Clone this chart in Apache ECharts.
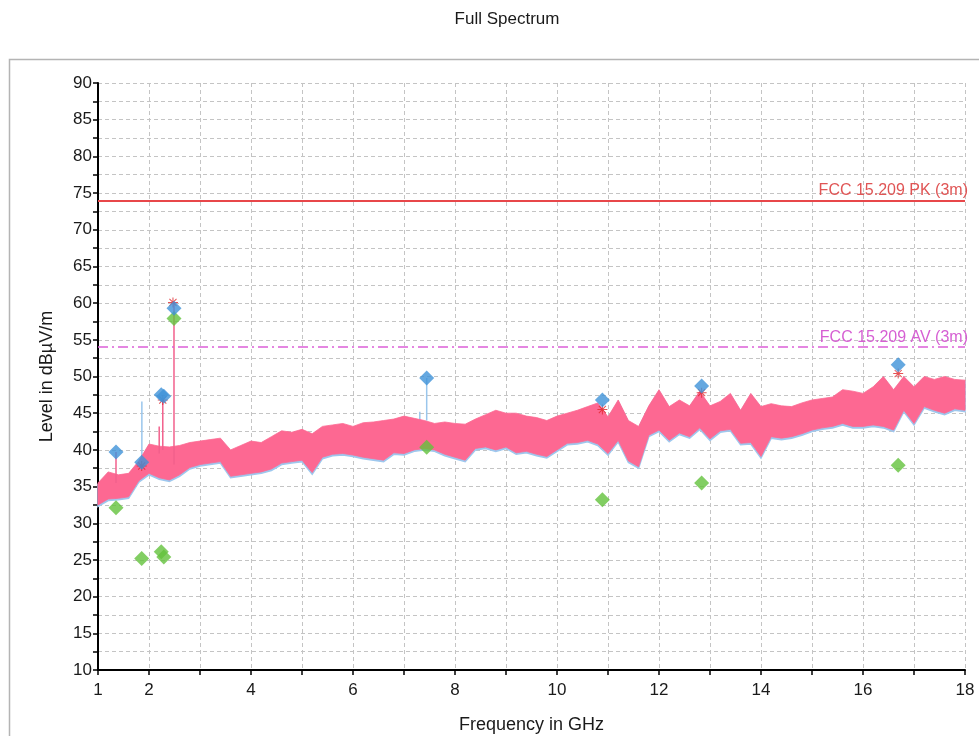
<!DOCTYPE html>
<html>
<head>
<meta charset="utf-8">
<title>Full Spectrum</title>
<script src="https://cdn.jsdelivr.net/npm/echarts@6/dist/echarts.min.js"></script>
<style>
  html, body { margin: 0; padding: 0; background: #fff; }
  #main { width: 979px; height: 736px; }
</style>
</head>
<body>
<div id="main"></div>
<script>
// sweep samples (GHz) with upper / lower edge of the measured trace (dBµV/m)
const freqGHz = [
  1.0, 1.2, 1.4, 1.6, 1.8, 2.0, 2.2, 2.4, 2.6, 2.8,
  3.0, 3.2, 3.4, 3.6, 3.8, 4.0, 4.2, 4.4, 4.6, 4.8,
  5.0, 5.2, 5.4, 5.6, 5.8, 6.0, 6.2, 6.4, 6.6, 6.8,
  7.0, 7.2, 7.4, 7.6, 7.8, 8.0, 8.2, 8.4, 8.6, 8.8,
  9.0, 9.2, 9.4, 9.6, 9.8, 10.0, 10.2, 10.4, 10.6, 10.8,
  11.0, 11.2, 11.4, 11.6, 11.8, 12.0, 12.2, 12.4, 12.6, 12.8,
  13.0, 13.2, 13.4, 13.6, 13.8, 14.0, 14.2, 14.4, 14.6, 14.8,
  15.0, 15.2, 15.4, 15.6, 15.8, 16.0, 16.2, 16.4, 16.6, 16.8,
  17.0, 17.2, 17.4, 17.6, 17.8, 18.0
];
const traceHigh = [
  35.5, 37.0, 36.6, 36.8, 38.5, 40.8, 40.5, 40.4, 40.6, 41.0,
  41.2, 41.4, 41.6, 40.0, 40.6, 41.2, 41.0, 41.8, 42.6, 42.4,
  42.8, 42.2, 43.2, 43.4, 43.6, 43.2, 43.7, 43.8, 44.0, 44.2,
  44.6, 44.3, 44.0, 43.6, 43.8, 43.6, 43.5, 44.2, 44.8, 45.4,
  45.0, 45.0, 44.6, 44.4, 44.0, 44.6, 45.0, 45.4, 45.9, 46.4,
  44.5, 46.8, 44.0, 43.2, 46.0, 48.2, 45.9, 46.8, 46.0, 48.0,
  46.0, 46.6, 47.7, 45.4, 47.7, 45.9, 46.3, 46.0, 45.9, 46.4,
  46.8, 47.0, 47.2, 48.2, 48.0, 47.7, 48.6, 50.0, 48.2, 50.0,
  48.6, 50.0, 49.6, 50.0, 49.6, 49.5
];
const traceLow = [
  32.5, 33.3, 33.4, 33.6, 35.8, 36.8, 36.2, 35.9, 36.6, 37.6,
  38.0, 38.2, 38.4, 36.4, 36.6, 36.8, 37.0, 37.4, 38.2, 38.4,
  38.6, 36.9, 39.0, 39.4, 39.5, 39.3, 39.0, 38.8, 38.6, 39.6,
  39.5, 40.0, 40.2, 40.0, 39.4, 39.0, 38.6, 40.2, 40.4, 40.0,
  40.4, 39.6, 39.8, 39.4, 39.1, 40.0, 40.9, 41.0, 41.3, 40.8,
  39.5, 41.3, 38.5, 37.7, 42.0, 42.7, 41.3, 42.3, 41.8, 43.0,
  41.5, 42.6, 42.8, 40.9, 41.0, 39.1, 41.8, 41.6, 41.8, 42.2,
  42.7, 43.0, 43.2, 43.6, 43.2, 43.2, 43.4, 43.2, 42.7, 45.4,
  43.6, 45.9, 45.4, 45.0, 45.6, 45.4
];

// narrow spikes sticking out of the trace
const pinkSpikeFreq = [1.353, 2.20, 2.27, 2.49];
const pinkSpikeBase = [35.5, 39.5, 40.0, 38.0];
const pinkSpikeTop = [39.7, 43.2, 46.8, 60.1];
const blueSpikeFreq = [1.86, 7.31, 7.445];
const blueSpikeBase = [38.5, 43.5, 44.0];
const blueSpikeTop = [46.6, 45.2, 49.8];

// final measurement points
const peakFreq = [1.353, 1.857, 2.24, 2.29, 2.49, 7.445, 10.89, 12.836, 16.69];
const peakLevel = [39.7, 38.3, 47.5, 47.3, 59.3, 49.8, 46.8, 48.7, 51.6];
const avgLevel = [32.1, 25.2, 26.1, 25.4, 57.9, 40.35, 33.2, 35.5, 37.9];
const starFreq = [1.857, 2.27, 2.47, 10.89, 12.836, 16.69];
const starLevel = [37.8, 46.8, 60.1, 45.5, 47.8, 50.4];

// limit lines
const limitPK = 74;
const limitAV = 54;

const FONT = '"Liberation Sans", Arial, sans-serif';
const STAR = 'path://M9,0L11,0L11,20L9,20Z M0,9L20,9L20,11L0,11Z M2.2,3.6L3.6,2.2L17.8,16.4L16.4,17.8Z M16.4,2.2L17.8,3.6L3.6,17.8L2.2,16.4Z';

function bandRender(fill, stroke, width, shiftY) {
  return function (params, api) {
    const pts = [];
    for (let i = 0; i < freqGHz.length; i++) pts.push(api.coord([freqGHz[i], traceHigh[i]]));
    for (let i = freqGHz.length - 1; i >= 0; i--) pts.push(api.coord([freqGHz[i], traceLow[i]]));
    return {
      type: 'polygon',
      y: shiftY,
      shape: { points: pts },
      style: { fill: fill, stroke: stroke, lineWidth: width }
    };
  };
}

function spikeRender(color) {
  return function (params, api) {
    const a = api.coord([api.value(0), api.value(1)]);
    const b = api.coord([api.value(0), api.value(2)]);
    return {
      type: 'line',
      shape: { x1: a[0], y1: a[1], x2: b[0], y2: b[1] },
      style: { stroke: color, lineWidth: 1.5 }
    };
  };
}

const pair = (xs, ys) => xs.map((x, i) => [x, ys[i]]);
const triple = (xs, a, b) => xs.map((x, i) => [x, a[i], b[i]]);

const chart = echarts.init(document.getElementById('main'));
chart.setOption({
  animation: false,
  backgroundColor: '#fff',
  textStyle: { fontFamily: FONT },
  graphic: [
    {
      type: 'rect',
      shape: { x: 9.5, y: 59.5, width: 990, height: 700 },
      style: { fill: 'none', stroke: '#b4b4b4', lineWidth: 1.5 },
      silent: true
    },
    {
      type: 'text',
      style: {
        text: 'Full Spectrum', x: 507, y: 19,
        textAlign: 'center', textVerticalAlign: 'middle',
        font: '17px ' + FONT, fill: '#1a1a1a'
      }
    }
  ],
  grid: { left: 98, right: 14, top: 83, bottom: 66, containLabel: false, outerBoundsMode: 'none' },
  xAxis: {
    type: 'value', min: 1, max: 18, interval: 1,
    name: 'Frequency in GHz', nameLocation: 'middle', nameGap: 46,
    nameTextStyle: { fontSize: 18, color: '#1a1a1a', fontFamily: FONT },
    axisLine: { lineStyle: { color: '#000', width: 2 } },
    axisTick: { length: 5, lineStyle: { color: '#000', width: 1.5 } },
    axisLabel: {
      margin: 12, fontSize: 17, color: '#1a1a1a', fontFamily: FONT,
      formatter: v => (v === 1 || v % 2 === 0) ? String(v) : ''
    },
    splitLine: { show: true, lineStyle: { color: '#c4c4c4', type: [4, 3] } }
  },
  yAxis: {
    type: 'value', min: 10, max: 90, interval: 5,
    name: 'Level in dBµV/m', nameLocation: 'middle', nameGap: 42,
    nameTextStyle: { fontSize: 18, color: '#1a1a1a', fontFamily: FONT },
    axisLine: { show: true, lineStyle: { color: '#000', width: 2 } },
    axisTick: { show: true, length: 5, lineStyle: { color: '#000', width: 1.5 } },
    minorTick: { show: true, splitNumber: 2, length: 5, lineStyle: { color: '#000', width: 1.5 } },
    axisLabel: { margin: 6, fontSize: 17, color: '#1a1a1a', fontFamily: FONT },
    splitLine: { show: true, lineStyle: { color: '#c4c4c4', type: [4, 3] } },
    minorSplitLine: { show: true, lineStyle: { color: '#c4c4c4', type: [4, 3] } }
  },
  series: [
    {
      type: 'line', data: [], silent: true,
      markLine: {
        symbol: 'none', silent: true,
        data: [
          {
            yAxis: limitPK,
            lineStyle: { color: '#e8474a', width: 2, type: 'solid' },
            label: { formatter: 'FCC 15.209 PK (3m)', color: '#e05555' }
          },
          {
            yAxis: limitAV,
            lineStyle: { color: '#dc5fd8', width: 1.5, type: [10, 4, 2, 4] },
            label: { formatter: 'FCC 15.209 AV (3m)', color: '#d65fd3' }
          }
        ],
        label: { position: 'insideEndTop', fontSize: 16, fontFamily: FONT, distance: [0, 2], offset: [3, 0] }
      }
    },
    {
      type: 'custom', name: 'peak trace', z: 2, silent: true,
      data: [[1, 40]],
      renderItem: bandRender('#9ec8ee', '#9ec8ee', 1.5, 1.5)
    },
    {
      type: 'custom', name: 'blue spikes', z: 2, silent: true,
      encode: { x: 0, y: [1, 2] },
      data: triple(blueSpikeFreq, blueSpikeBase, blueSpikeTop),
      renderItem: spikeRender('#9ac6ec')
    },
    {
      type: 'custom', name: 'trace', z: 3, silent: true,
      data: [[1, 40]],
      renderItem: bandRender('#fd6892', '#fd6892', 0.8, 0)
    },
    {
      type: 'custom', name: 'pink spikes', z: 3, silent: true,
      encode: { x: 0, y: [1, 2] },
      data: triple(pinkSpikeFreq, pinkSpikeBase, pinkSpikeTop),
      renderItem: spikeRender('#f2608c')
    },
    {
      type: 'scatter', name: 'Average', z: 4,
      symbol: 'diamond', symbolSize: 15,
      itemStyle: { color: '#63c23c' },
      data: pair(peakFreq, avgLevel)
    },
    {
      type: 'scatter', name: 'Final', z: 5,
      symbol: STAR, symbolSize: 10,
      itemStyle: { color: '#e0262c' },
      data: pair(starFreq, starLevel)
    },
    {
      type: 'scatter', name: 'Peak', z: 6,
      symbol: 'diamond', symbolSize: 15,
      itemStyle: { color: '#3f92d8' },
      data: pair(peakFreq, peakLevel)
    }
  ]
});
</script>
</body>
</html>
